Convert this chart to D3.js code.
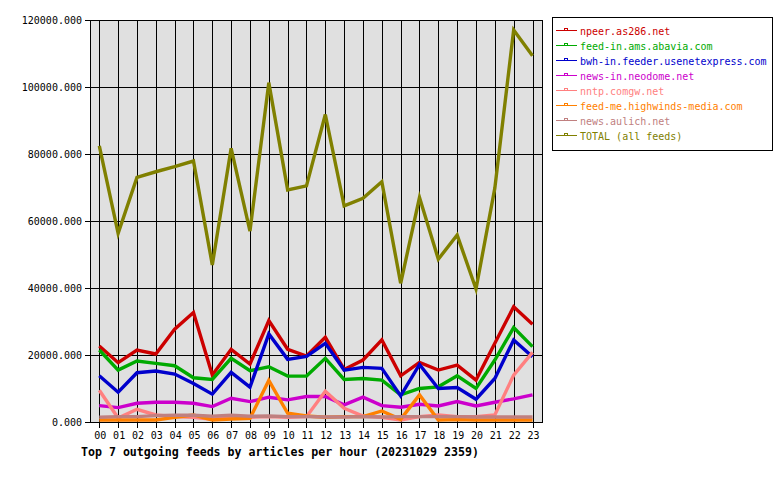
<!DOCTYPE html>
<html><head><meta charset="utf-8">
<script src="https://cdn.jsdelivr.net/npm/d3@7"></script>
<style>body{margin:0;background:#fff}svg{display:block}</style>
</head><body><svg id="c" width="780" height="480"></svg>
<script>
const hours = ["00","01","02","03","04","05","06","07","08","09","10","11","12","13","14","15","16","17","18","19","20","21","22","23"];
const yTicks = [0,20000,40000,60000,80000,100000,120000];
const seriesNames = ["npeer.as286.net","feed-in.ams.abavia.com","bwh-in.feeder.usenetexpress.com","news-in.neodome.net","nntp.comgw.net","feed-me.highwinds-media.com","news.aulich.net","TOTAL (all feeds)"];
const seriesColors = ["#cc0000","#00aa00","#0000cc","#cc00cc","#ff8080","#ff8000","#c08080","#808000"];
const npeer   = [22700,17700,21500,20300,27700,32700,14000,21700,17300,30300,21700,19700,25300,15700,18500,24500,13800,17800,15500,17000,12500,23500,34400,29200];
const abavia  = [21500,15500,18200,17500,16800,13200,12700,19000,15300,16500,13700,13700,19000,12700,13000,12500,8100,10000,10500,13800,10000,18500,28200,22500];
const bwh     = [13800,8900,14700,15200,14300,11500,8300,14800,10400,26300,18700,19600,23500,15500,16300,16000,7800,17200,10000,10300,6800,13000,24500,19500];
const neodome = [4900,4300,5600,5900,5900,5600,4600,7100,6100,7400,6600,7600,7600,5100,7400,4900,4400,5300,4800,6100,4800,5900,6900,8100];
const comgw   = [9500,1200,3800,2100,1600,1400,800,1600,1400,1600,1400,1600,9200,4100,1800,1400,600,1600,2100,1600,1600,2100,14000,20800];
const highw   = [600,600,600,600,1400,2100,600,900,1100,12400,2600,1800,1400,1600,1600,3300,800,8100,600,700,600,600,600,600];
const aulich  = [1400,1600,1600,1900,2000,2000,1700,2000,1700,1800,1600,1600,1500,1500,1600,1500,1600,1600,1600,1600,1500,1500,1500,1500];
const total   = [82400,56300,73000,74700,76200,77900,46900,81700,57000,101300,69300,70500,91800,64500,66800,71700,41400,67000,48600,55800,39700,69800,117000,109300];
const seriesData = [npeer,abavia,bwh,neodome,comgw,highw,aulich,total];
const title = "Top 7 outgoing feeds by articles per hour (20231029 2359)";

const svg = d3.select("#c");
const L=90,R=543,T=20,B=422;
const x = d3.scaleLinear().domain([0,23]).range([99.3,532.5]);
const y = d3.scaleLinear().domain([0,120000]).range([B,T]);
const mono = "'DejaVu Sans Mono', monospace";

svg.append("rect").attr("x",L).attr("y",T).attr("width",R-L).attr("height",B-T).attr("fill","#e0e0e0");
// grid
svg.append("g").selectAll("line").data(yTicks).join("line")
  .attr("x1",L-5).attr("x2",R).attr("y1",d=>Math.round(y(d))+0.5).attr("y2",d=>Math.round(y(d))+0.5)
  .attr("stroke","#000").attr("shape-rendering","crispEdges");
svg.append("g").selectAll("line").data(hours).join("line")
  .attr("x1",(d,i)=>Math.round(x(i))+0.5).attr("x2",(d,i)=>Math.round(x(i))+0.5)
  .attr("y1",T).attr("y2",B+6)
  .attr("stroke","#000").attr("shape-rendering","crispEdges");
svg.append("rect").attr("x",L+0.5).attr("y",T+0.5).attr("width",R-L-1).attr("height",B-T)
  .attr("fill","none").attr("stroke","#000").attr("shape-rendering","crispEdges");
// y labels
svg.append("g").selectAll("text").data(yTicks).join("text")
  .attr("x",82).attr("y",d=>y(d)+4).attr("text-anchor","end")
  .attr("font-family",mono).attr("font-size","10px").text(d=>d3.format(".3f")(d));
// x labels
svg.append("g").selectAll("text").data(hours).join("text")
  .attr("x",(d,i)=>x(i)+1).attr("y",439).attr("text-anchor","middle")
  .attr("font-family",mono).attr("font-size","10px").text(d=>d);
// lines
const line = d3.line().x((d,i)=>x(i)).y(d=>y(d));
svg.append("g").selectAll("path").data(seriesData).join("path")
  .attr("d",d=>line(d)).attr("fill","none")
  .attr("stroke",(d,i)=>seriesColors[i]).attr("stroke-width",3.4).attr("stroke-linejoin","miter");
// title
svg.append("text").attr("x",81).attr("y",456).attr("font-family",mono)
  .attr("font-weight","bold").attr("font-size","11.6px").text(title);
// legend
svg.append("rect").attr("x",552.5).attr("y",17.5).attr("width",220).attr("height",133)
  .attr("fill","#fff").attr("stroke","#000").attr("shape-rendering","crispEdges");
const lg = svg.append("g").selectAll("g").data(seriesNames).join("g")
  .attr("transform",(d,i)=>`translate(0,${33+i*15})`);
lg.append("rect").attr("x",556).attr("y",-3).attr("width",21).attr("height",1)
  .attr("fill",(d,i)=>seriesColors[i]);
lg.append("rect").attr("x",564).attr("y",-5).attr("width",4).attr("height",3)
  .attr("fill",(d,i)=>seriesColors[i]);
lg.append("rect").attr("x",565).attr("y",-4).attr("width",2).attr("height",1)
  .attr("fill","#fff");
lg.append("text").attr("x",580).attr("y",1.5).attr("font-family",mono).attr("font-size","10px")
  .attr("fill",(d,i)=>seriesColors[i]).text(d=>d);
</script></body></html>
